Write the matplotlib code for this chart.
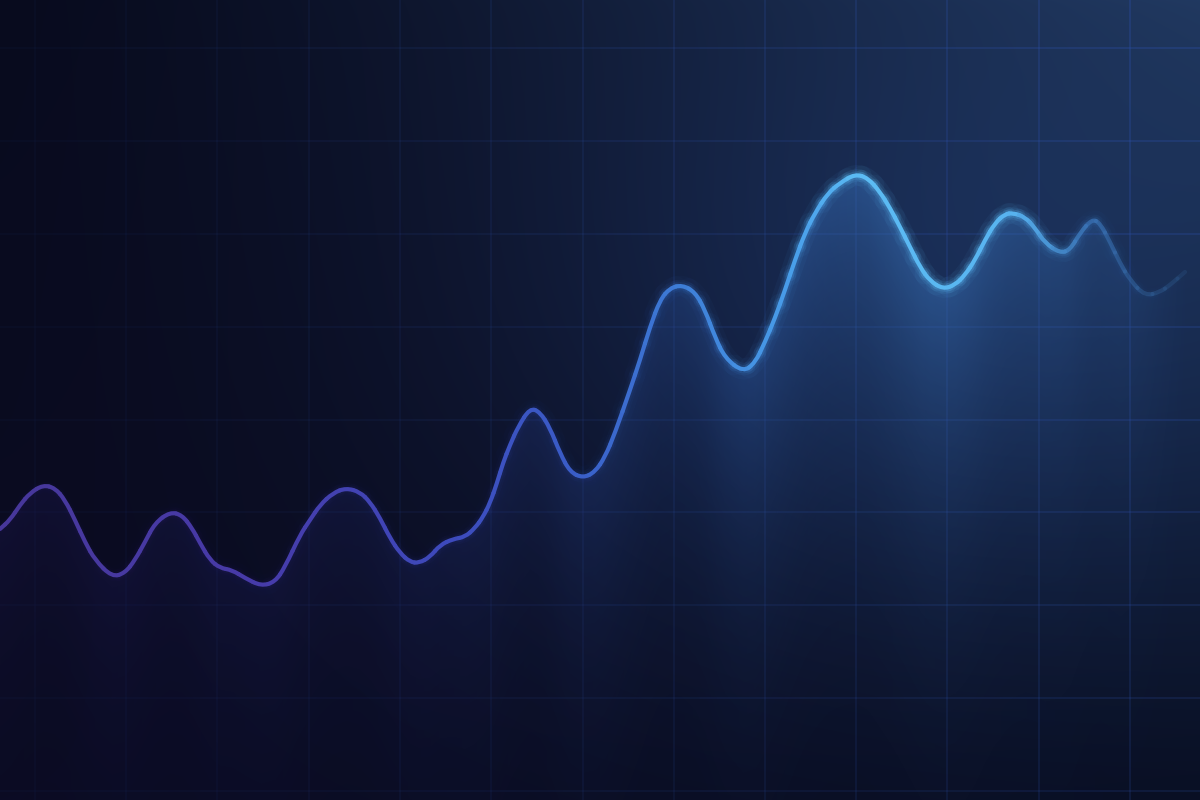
import numpy as np
import matplotlib
matplotlib.use("Agg")
import matplotlib.pyplot as plt
from matplotlib.collections import LineCollection, PathCollection
from matplotlib.path import Path
from matplotlib.colors import to_rgb

# curve (pixel units, y grows downward)
CURVE_X = [0, 10, 20, 30, 43, 55, 65, 75, 85, 95, 112, 125, 135, 145, 155, 170,
           182, 192, 200, 210, 220, 232, 245, 261, 275, 285, 300, 310, 320, 333,
           346, 360, 370, 380, 390, 400, 410, 419, 430, 440, 453, 465, 475, 483,
           490, 497, 503, 510, 518, 530, 540, 550, 560, 570, 583, 595, 605, 615,
           630, 640, 650, 660, 670, 682, 695, 705, 715, 725, 743, 755, 765, 775,
           785, 795, 805, 815, 828, 840, 855, 868, 880, 890, 900, 910, 920, 930,
           943, 955, 965, 975, 985, 995, 1005, 1013, 1025, 1035, 1045, 1060, 1070,
           1080, 1092, 1100, 1110, 1120, 1130, 1145, 1160, 1170, 1185]
CURVE_Y = [529, 520, 505, 493, 485, 488, 500, 520, 542, 560, 577, 573, 560, 542,
           523, 512, 515, 528, 543, 560, 568, 570, 578, 586, 582, 567, 535, 520,
           505, 493, 488, 492, 502, 518, 538, 553, 562, 563, 557, 545, 539, 537,
           528, 517, 503, 483, 463, 445, 427, 408, 412, 428, 453, 472, 478, 472,
           457, 433, 390, 360, 327, 300, 288, 285, 292, 310, 337, 358, 372, 363,
           342, 318, 290, 260, 233, 213, 193, 183, 174, 178, 192, 208, 227, 247,
           267, 281, 289, 285, 275, 260, 240, 223, 214, 213, 217, 228, 243, 253,
           250, 233, 219, 223, 242, 263, 280, 296, 292, 285, 272]

GRID_X = [35, 126, 217, 309, 400, 491, 583, 674, 765, 856, 947, 1039, 1130]
GRID_Y = [48, 141, 234, 327, 420, 512, 605, 698, 791]

W, H = 1200, 800

# line colour stops along x
LINE_STOPS = [(0, "#47379a"), (250, "#473aa8"), (450, "#3d4abc"), (580, "#3a5ec8"),
              (680, "#3d7cd6"), (800, "#4aa0ea"), (860, "#5cbcf4"), (1010, "#58b4f0"),
              (1090, "#3a74b8"), (1200, "#2a5080")]


def stop_colour(xs, stops):
    px = [s[0] for s in stops]
    cs = np.array([to_rgb(s[1]) for s in stops])
    return np.stack([np.interp(xs, px, cs[:, k]) for k in range(3)], axis=-1)


def smooth_pieces(x, y):
    # quadratic bezier pieces between midpoints, data points as control points
    p = np.column_stack([x, y])
    m = (p[:-1] + p[1:]) / 2
    paths, xs = [], []
    paths.append(Path([p[0], m[0]], [Path.MOVETO, Path.LINETO]))
    xs.append(p[0, 0])
    for i in range(1, len(p) - 1):
        paths.append(Path([m[i - 1], p[i], m[i]], [Path.MOVETO, Path.CURVE3, Path.CURVE3]))
        xs.append(p[i, 0])
    paths.append(Path([m[-1], p[-1]], [Path.MOVETO, Path.LINETO]))
    xs.append(p[-1, 0])
    return paths, np.array(xs)


def main():
    x = np.array(CURVE_X, float)
    y = np.array(CURVE_Y, float)

    fig = plt.figure(figsize=(12, 8), dpi=100)
    ax = fig.add_axes([0, 0, 1, 1])
    ax.set_xlim(0, W)
    ax.set_ylim(H, 0)
    ax.axis("off")

    # background: four-corner blend plus a soft glow
    gx, gy = np.meshgrid(np.arange(W) / W, np.arange(H) / H)
    tl = np.array(to_rgb("#080b1e"))
    tr = np.array(to_rgb("#1f3559"))
    bl = np.array(to_rgb("#0b0b21"))
    br = np.array(to_rgb("#090f23"))
    u = gx[..., None] ** 1.3
    v = gy[..., None] ** 0.75
    bg = (1 - u) * (1 - v) * tl + u * (1 - v) * tr + (1 - u) * v * bl + u * v * br
    d = np.hypot((gx * W - 950) / 400, (gy * H - 300) / 300)
    glow = np.exp(-d ** 2)[..., None] * np.array([0.03, 0.065, 0.12])
    bg = np.clip(bg + glow, 0, 1)
    ax.imshow(bg, extent=(0, W, H, 0), zorder=0, interpolation="bilinear")

    # grid, faint on the left, brighter towards the upper right
    segs, cols = [], []
    for gxp in GRID_X:
        for j in range(8):
            y0 = j * 100
            segs.append([(gxp, y0), (gxp, y0 + 100)])
            a = 0.06 + 0.42 * (gxp / W) ** 1.4 * (1 - 0.55 * (y0 + 50) / H)
            cols.append((0.17, 0.30, 0.64, a))
    for gyp in GRID_Y:
        for i in range(12):
            x0 = i * 100
            segs.append([(x0, gyp), (x0 + 100, gyp)])
            a = 0.06 + 0.42 * ((x0 + 50) / W) ** 1.4 * (1 - 0.55 * gyp / H)
            cols.append((0.17, 0.30, 0.64, a))
    ax.add_collection(LineCollection(segs, colors=cols, linewidths=1.1, zorder=1))

    # area under the curve: gradient clipped by the filled polygon
    cy = np.interp(gx[0] * W, x, y)
    fill_rgb = stop_colour(gx[0] * W, [(0, "#2c2278"), (400, "#28338a"),
                                       (700, "#2d5aa8"), (900, "#3a74bd"),
                                       (1200, "#2e5a98")])
    strength = np.interp(gx[0] * W, [0, 400, 650, 880, 1000, 1120, 1190],
                         [0.2, 0.2, 0.32, 0.55, 0.5, 0.25, 0.0])
    depth = np.clip(gy * H - cy[None, :], 0, None)
    alpha = strength[None, :] * np.exp(-depth / 170.0)
    fill_img = np.dstack([np.broadcast_to(fill_rgb[None, :, k], (H, W)) for k in range(3)] + [alpha])
    poly = ax.fill_between(x, y, H, color="none", lw=0)
    im = ax.imshow(fill_img, extent=(0, W, H, 0), zorder=2, interpolation="bilinear")
    im.set_clip_path(poly.get_paths()[0], transform=ax.transData)

    # smooth line with glow, coloured piece by piece
    paths, px = smooth_pieces(x, y)
    rgb = stop_colour(px, LINE_STOPS)
    fade = np.interp(px, [0, 1040, 1092, 1200], [1.0, 1.0, 0.7, 0.25])
    bright = np.interp(px, [0, 600, 800, 1050, 1200], [0.15, 0.3, 1.0, 1.0, 0.3])
    for lw, a in [(15, 0.05), (9, 0.10), (6, 0.16)]:
        c = np.column_stack([rgb, a * fade * bright])
        pc = PathCollection(paths, facecolors="none", edgecolors=c, linewidths=lw,
                            transform=ax.transData, zorder=3)
        pc.set_capstyle("round")
        ax.add_collection(pc)
    c = np.column_stack([rgb, fade])
    pc = PathCollection(paths, facecolors="none", edgecolors=c, linewidths=3.0,
                        transform=ax.transData, zorder=4)
    pc.set_capstyle("round")
    ax.add_collection(pc)

    fig.savefig("out.png", dpi=100)


if __name__ == "__main__":
    main()
